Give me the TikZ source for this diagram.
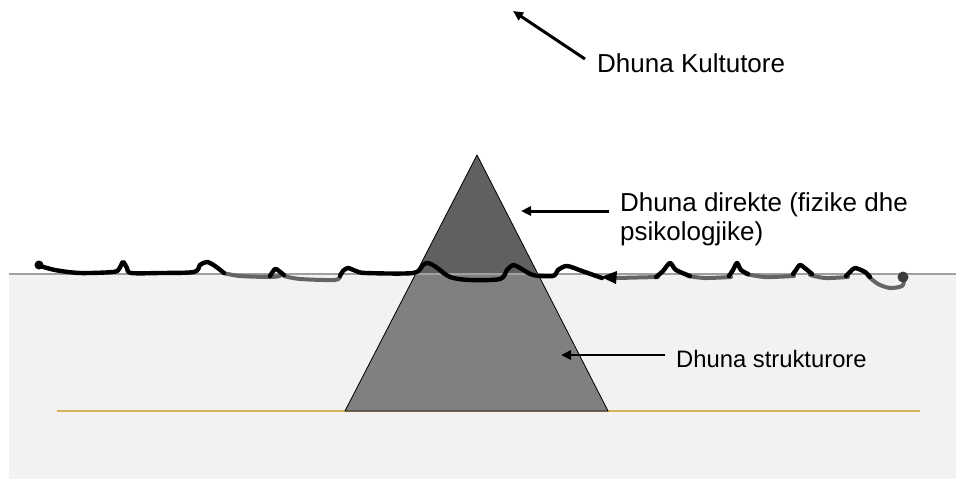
\documentclass[tikz,border=0pt]{standalone}
\usepackage{fontspec}
\setmainfont{Liberation Sans}
\usetikzlibrary{arrows.meta}
\definecolor{bgsea}{RGB}{242,242,242}
\definecolor{surf}{RGB}{160,160,160}
\definecolor{goldl}{RGB}{214,178,92}
\definecolor{topgray}{RGB}{96,96,96}
\definecolor{lowgray}{RGB}{128,128,128}
\definecolor{wavegray}{RGB}{100,100,100}
\tikzset{
  arr/.style={line width=3pt, -{Triangle[length=10pt,width=9pt]}},
  lbl/.style={inner sep=0pt, anchor=base west, font=\fontsize{26}{29}\selectfont},
  lblsmall/.style={inner sep=0pt, anchor=base west, font=\fontsize{23.8}{27}\selectfont},
  blk/.style={line width=4.4pt, black, line cap=round, line join=round},
  gry/.style={line width=4pt, wavegray, line cap=round, line join=round},
}
\begin{document}
\begin{tikzpicture}[x=1pt,y=-1pt]
\useasboundingbox (0,0) rectangle (956,479);
% sea background
\fill[bgsea] (9,274) rectangle (956,479);
% ground line
\draw[goldl, line width=2.6pt] (57,411) -- (920,411);
% iceberg triangle
\coordinate (apex) at (477,155);
\coordinate (bl) at (345,411);
\coordinate (br) at (608,411);
\fill[topgray] (apex) -- (bl) -- (br) -- cycle;
\fill[lowgray] (415.6,274) -- (bl) -- (br) -- (537.9,274) -- cycle;
\draw[black, line width=0.8pt, line join=round] (apex) -- (bl) -- (br) -- cycle;
% surface line
\draw[surf, line width=1.3pt] (9,274) -- (956,274);
% wavy line: gray parts
\draw[gry] plot[smooth, tension=0.5] coordinates {(223,273) (240,276) (270,277) (280,276)};
\draw[gry] plot[smooth, tension=0.5] coordinates {(284,276) (300,279) (335,280) (340,276)};
\draw[gry] (617,278) -- (658,277);
\draw[gry] plot[smooth, tension=0.5] coordinates {(688,276) (705,278) (731,277)};
\draw[gry] plot[smooth, tension=0.5] coordinates {(746,274) (765,277) (794,276)};
\draw[gry] plot[smooth, tension=0.5] coordinates {(810,275) (825,278) (848,277)};
\draw[gry] plot[smooth, tension=0.5] coordinates {(868,276) (878,284) (890,288) (902,286) (904,280)};
% wavy line: black parts
\draw[blk] plot[smooth, tension=0.5] coordinates {(37,265) (55,270) (80,273) (113,272) (119,269) (123,262) (127,268) (131,273) (160,273) (194,272) (200,265) (207,262) (215,266) (224,273)};
\fill[black] (39,265) circle (4.5);
\draw[blk] plot[smooth, tension=0.5] coordinates {(270,276) (275,269) (279,271) (284,275)};
\draw[blk] plot[smooth, tension=0.5] coordinates {(340,276) (343,271) (348,268) (356,271) (366,273) (413,273) (423,265) (428,263) (436,267) (450,277) (470,280) (500,279) (507,270) (513,265) (520,268) (533,275) (553,276) (558,270) (567,266) (582,271) (602,278)};
\fill[black] (601,277) -- (617,271) -- (616,284) -- cycle;
\draw[blk] plot[smooth, tension=0.5] coordinates {(656,277) (663,271) (670,263) (676,270) (690,276)};
\draw[blk] plot[smooth, tension=0.5] coordinates {(729,276) (733,270) (737,263) (741,270) (748,274)};
\draw[blk] plot[smooth, tension=0.5] coordinates {(793,274) (796,270) (800,265) (806,269) (812,274)};
\draw[blk] plot[smooth, tension=0.5] coordinates {(846,276) (850,272) (855,268) (865,272) (870,277)};
\fill[wavegray!60!black] (903,277) circle (5.5);
% labels
\node[lbl] (kult) at (597,72) {Dhuna Kultutore};
\node[lbl] (dir1) at (620,211) {Dhuna direkte (fizike dhe};
\node[lbl] (dir2) at (620,240) {psikologjike)};
\node[lblsmall] (strk) at (676,367) {Dhuna strukturore};
% arrows
\coordinate (kultT) at (585,59);
\coordinate (kultH) at (513,11);
\coordinate (dirT) at (609,211);
\coordinate (dirH) at (521,211);
\coordinate (strT) at (665,355);
\coordinate (strH) at (561,355);
\draw[arr] (kultT) -- (kultH);
\draw[arr] (dirT) -- (dirH);
\draw[arr, line width=2.7pt] (strT) -- (strH);
\end{tikzpicture}
\end{document}
